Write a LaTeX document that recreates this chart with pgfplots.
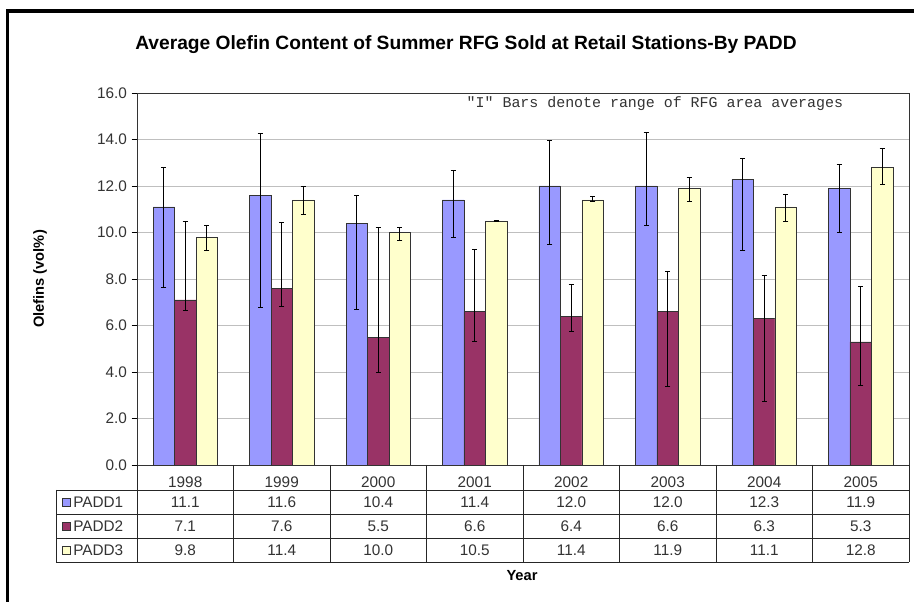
\documentclass[border=0pt]{standalone}
\usepackage{pgfplots}
\usepackage{pgfplotstable}
\pgfplotsset{compat=1.18}
\usepackage{fontspec}
\setmainfont{Liberation Sans}
\newfontfamily\cour{Liberation Mono}
\definecolor{padda}{HTML}{9999FF}
\definecolor{paddb}{HTML}{993366}
\definecolor{paddc}{HTML}{FFFFCC}
\definecolor{txt}{HTML}{333333}

\pgfplotstableread{
x y ep em
0 11.1 1.70 3.47
1 11.6 2.65 4.84
2 10.4 1.20 3.69
3 11.4 1.28 1.60
4 12.0 1.95 2.50
5 12.0 2.32 1.71
6 12.3 0.90 3.07
7 11.9 1.01 1.89
}\padda
\pgfplotstableread{
x y ep em
0 7.1 3.36 0.46
1 7.6 2.82 0.80
2 5.5 4.73 1.53
3 6.6 2.67 1.28
4 6.4 1.35 0.66
5 6.6 1.72 3.20
6 6.3 1.85 3.56
7 5.3 2.39 1.86
}\paddb
\pgfplotstableread{
x y ep em
0 9.8 0.50 0.58
1 11.4 0.58 0.61
2 10.0 0.23 0.33
3 10.5 0.01 0.03
4 11.4 0.15 0.08
5 11.9 0.48 0.55
6 11.1 0.54 0.61
7 12.8 0.82 0.75
}\paddc

\begin{document}
\begin{tikzpicture}[x=0.75pt,y=0.75pt]
\path[use as bounding box] (0,0) rectangle (914,602);
\fill[white] (0,0) rectangle (914,602);
\draw[line width=2.7pt] (7.3,0) -- (7.3,591.2) -- (914,591.2);

\begin{axis}[
  at={(102.75pt,102.75pt)}, anchor=south west,
  scale only axis, width=579pt, height=279pt,
  xmin=-0.5, xmax=7.5, ymin=0, ymax=16,
  ytick={0,2,...,16},
  xtick=data, xticklabels={1998,1999,2000,2001,2002,2003,2004,2005},
  x tick style={draw=none},
  xticklabel style={anchor=center, yshift=-9pt, font=\fontsize{11.5}{12}\selectfont, text=txt},
  yticklabel style={font=\fontsize{11.5}{12}\selectfont, text=txt},
  y tick style={black}, tick align=outside, major tick length=4pt, tick pos=left,
  /pgf/number format/.cd, fixed, fixed zerofill, precision=1, assume math mode=true,
  /pgfplots/.cd,
  ymajorgrids, major grid style={draw=black!25},
  axis line style={black!80},
  ybar, bar width=0.2228,
  clip=false,
]
\addplot[fill=padda, draw=black!80, bar shift=-0.2228,
  error bars/.cd, y dir=both, y explicit,
  error bar style={black, line width=0.6pt},
  error mark options={rotate=90, mark size=2pt, black, line width=0.6pt}]
  table[x=x, y=y, y error plus=ep, y error minus=em] {\padda};
\addplot[fill=paddb, draw=black!80, bar shift=0,
  error bars/.cd, y dir=both, y explicit,
  error bar style={black, line width=0.6pt},
  error mark options={rotate=90, mark size=2pt, black, line width=0.6pt}]
  table[x=x, y=y, y error plus=ep, y error minus=em] {\paddb};
\addplot[fill=paddc, draw=black!80, bar shift=0.2228,
  error bars/.cd, y dir=both, y explicit,
  error bar style={black, line width=0.6pt},
  error mark options={rotate=90, mark size=2pt, black, line width=0.6pt}]
  table[x=x, y=y, y error plus=ep, y error minus=em] {\paddc};
\end{axis}

% title and labels
\node[font=\bfseries\fontsize{14.4}{16}\selectfont] at (466,557) {Average Olefin Content of Summer RFG Sold at Retail Stations-By PADD};
\node[font=\cour\fontsize{11.2}{12}\selectfont, anchor=west, text=txt] at (462,498) {"I" Bars denote range of RFG area averages};
\node[font=\bfseries\fontsize{11}{12}\selectfont, rotate=90] at (40,323) {Olefins (vol\%)};
\node[font=\bfseries\fontsize{11}{12}\selectfont] at (522,26) {Year};

% data table
\begin{scope}[black!85, line width=0.6pt]
\draw (56,112) -- (909,112);
\draw (56,88) -- (909,88);
\draw (56,64) -- (909,64);
\draw (56,40) -- (909,40);
\draw (56,112) -- (56,40);
\foreach \k in {0,...,8} {\draw ({137+96.5*\k},137) -- ({137+96.5*\k},40);}
\end{scope}
\foreach \c/\n/\yy in {padda/PADD1/100, paddb/PADD2/76, paddc/PADD3/52} {
  \filldraw[fill=\c, draw=black!80, line width=0.5pt] (62,\yy-4) rectangle (70,\yy+4);
  \node[anchor=west, inner sep=0pt, font=\fontsize{11.5}{12}\selectfont, text=txt] at (73,\yy) {\n};
}
\foreach \v [count=\i from 0] in {11.1,11.6,10.4,11.4,12.0,12.0,12.3,11.9}
  \node[font=\fontsize{11.5}{12}\selectfont, text=txt] at ({185.25+96.5*\i},100) {\v};
\foreach \v [count=\i from 0] in {7.1,7.6,5.5,6.6,6.4,6.6,6.3,5.3}
  \node[font=\fontsize{11.5}{12}\selectfont, text=txt] at ({185.25+96.5*\i},76) {\v};
\foreach \v [count=\i from 0] in {9.8,11.4,10.0,10.5,11.4,11.9,11.1,12.8}
  \node[font=\fontsize{11.5}{12}\selectfont, text=txt] at ({185.25+96.5*\i},52) {\v};
\end{tikzpicture}
\end{document}
